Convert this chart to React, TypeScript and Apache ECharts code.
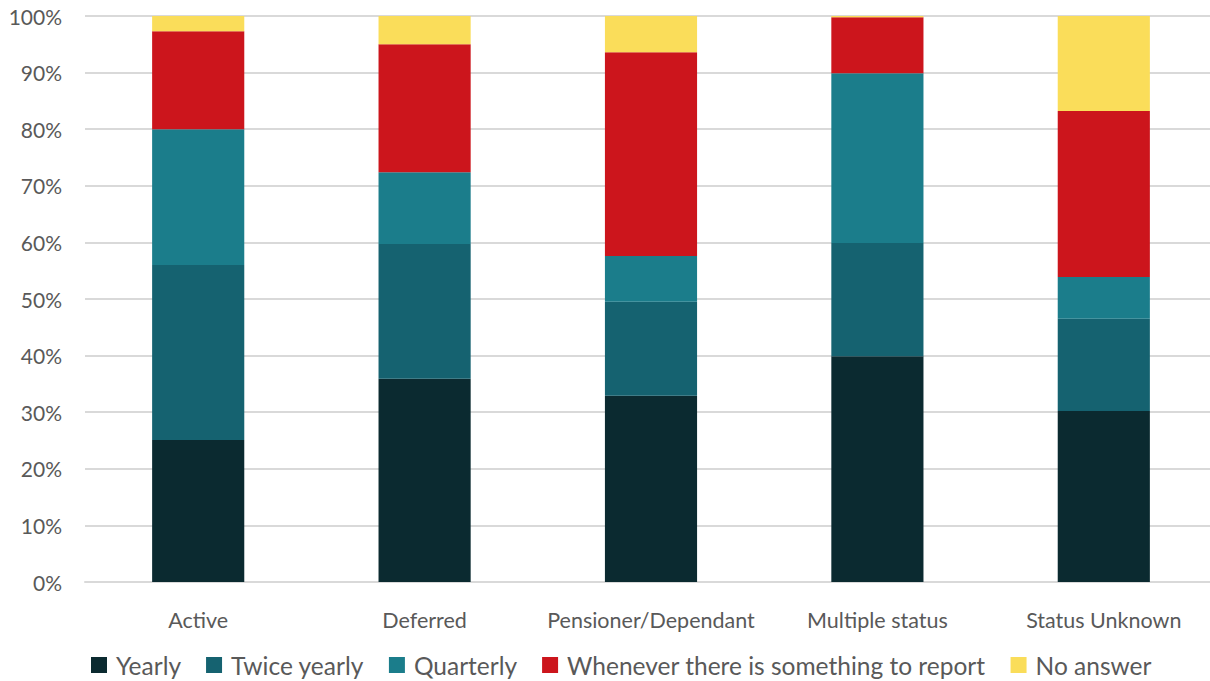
import React, { useEffect, useRef } from "react";
import * as echarts from "echarts";

const categories = ["Active", "Deferred", "Pensioner/Dependant", "Multiple status", "Status Unknown"];
const yearly = [25.1, 35.9, 32.9, 39.9, 30.2];
const twiceYearly = [30.9, 23.8, 16.6, 20.0, 16.3];
const quarterly = [24.0, 12.7, 8.1, 30.0, 7.4];
const whenever = [17.3, 22.6, 36.0, 9.9, 29.3];
const noAnswer = [2.7, 5.0, 6.4, 0.2, 16.8];

const seriesDefs = [
  { name: "Yearly", data: yearly, color: "#0B2A30" },
  { name: "Twice yearly", data: twiceYearly, color: "#156270" },
  { name: "Quarterly", data: quarterly, color: "#1B7D8B" },
  { name: "Whenever there is something to report", data: whenever, color: "#CC151C" },
  { name: "No answer", data: noAnswer, color: "#FADD5A" },
];

const FONT = "Lato, 'Open Sans', sans-serif";

export default function App() {
  const ref = useRef<HTMLDivElement>(null);
  useEffect(() => {
    if (!ref.current) return;
    const chart = echarts.init(ref.current, undefined, { renderer: "svg" });
    chart.setOption({
      animation: false,
      textStyle: { fontFamily: FONT },
      grid: { left: 85, right: 0, top: 16, bottom: 99, containLabel: false },
      legend: {
        top: 651,
        left: 91,
        padding: 0,
        itemWidth: 16,
        itemHeight: 16,
        itemGap: 25,
        icon: "rect",
        textStyle: { fontFamily: FONT, fontSize: 24.5, color: "#595959", padding: [0, 0, 0, 4], lineHeight: 28 },
        data: seriesDefs.map((s) => s.name),
      },
      xAxis: {
        type: "category",
        data: categories,
        axisLine: { show: true, lineStyle: { color: "#D9D9D9", width: 2 } },
        axisTick: { show: false },
        axisLabel: { fontSize: 21.5, color: "#595959", margin: 27, fontFamily: FONT, interval: 0 },
      },
      yAxis: {
        type: "value",
        min: 0,
        max: 100,
        interval: 10,
        axisLine: { show: false },
        axisTick: { show: false },
        splitLine: { lineStyle: { color: "#D9D9D9", width: 2 } },
        axisLabel: {
          fontSize: 21,
          color: "#595959",
          margin: 23,
          fontFamily: FONT,
          formatter: (v: number) => `${v}%`,
        },
      },
      series: seriesDefs.map((s) => ({
        name: s.name,
        type: "bar",
        stack: "total",
        barWidth: "40.7%",
        data: s.data,
        itemStyle: { color: s.color },
      })),
    });
    return () => chart.dispose();
  }, []);
  return (
    <div style={{ position: "absolute", left: 0, top: 0, width: 1210, height: 681, overflow: "hidden" }}>
      <div ref={ref} style={{ position: "absolute", left: 0, top: 0, width: 1217, height: 681 }} />
    </div>
  );
}
